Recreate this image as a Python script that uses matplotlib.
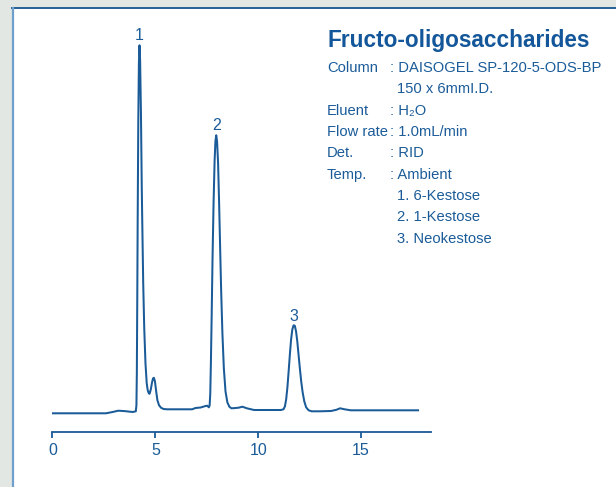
import matplotlib
matplotlib.use("Agg")
import matplotlib.pyplot as plt
import numpy as np
from matplotlib.patches import Rectangle
from matplotlib.lines import Line2D

# retention time (min) and detector response
time_min = [0.0, 2.6, 2.9, 3.2, 3.5, 3.9, 4.05, 4.08, 4.10, 4.12, 4.14, 4.17,
            4.20, 4.23, 4.26, 4.30, 4.34, 4.37, 4.41, 4.46, 4.52, 4.58, 4.63,
            4.68, 4.72, 4.78, 4.84, 4.89, 4.93, 4.98, 5.04, 5.10, 5.18, 5.28,
            5.40, 5.57, 6.0, 6.79, 6.95, 7.2, 7.44, 7.52, 7.60, 7.64, 7.67,
            7.70, 7.74, 7.78, 7.83, 7.88, 7.92, 7.96, 8.00, 8.05, 8.10, 8.15,
            8.20, 8.26, 8.33, 8.41, 8.50, 8.60, 8.70, 8.85, 9.05, 9.23, 9.45,
            9.8, 10.5, 11.1, 11.23, 11.30, 11.36, 11.42, 11.48, 11.54, 11.60,
            11.66, 11.72, 11.78, 11.84, 11.90, 11.96, 12.02, 12.09, 12.16,
            12.24, 12.33, 12.45, 12.60, 13.0, 13.54, 13.8, 13.98, 14.2, 14.5,
            15.5, 17.77]
response = [0.0, 0.0, 1.2, 2.6, 2.2, 1.3, 2.0, 8, 40, 110, 190, 290,
            350, 368, 352, 300, 225, 183, 130, 85, 50, 30, 23,
            20, 19.5, 24, 31, 35, 35.5, 32, 22, 13, 8, 5.5,
            4.3, 4.0, 4.0, 4.0, 5.3, 5.8, 7.3, 7.6, 6.0, 8, 20,
            50, 100, 155, 210, 252, 272, 278, 272, 250, 210, 165,
            122, 80, 45, 22, 11, 6.5, 5.0, 5.2, 5.6, 6.6, 5.0,
            3.3, 3.3, 3.3, 4, 7, 14, 26, 42, 59, 74,
            84, 88, 87.5, 82, 72, 59, 46, 32, 21,
            12, 6, 3, 2, 2.0, 2.3, 3.5, 5.0, 4.0, 3.0,
            3.0, 3.0]

peak_times = [4.23, 7.96, 11.75]
peak_labels = ['1', '2', '3']
xticks = [0, 5, 10, 15]

title = 'Fructo-oligosaccharides'
cond_names = ['Column', '', 'Eluent', 'Flow rate', 'Det.', 'Temp.', '', '', '']
cond_values = [': DAISOGEL SP-120-5-ODS-BP', '150 x 6mmI.D.', ': H\u2082O',
               ': 1.0mL/min', ': RID', ': Ambient', '1. 6-Kestose',
               '2. 1-Kestose', '3. Neokestose']

blue = '#1a5b98'
gray = '#e2e7e3'
plt.rcParams['font.family'] = ['Liberation Sans', 'DejaVu Sans']

W, H = 616, 487
fig = plt.figure(figsize=(W / 100, H / 100), dpi=100, facecolor='white')


def fx(px):
    return px / W


def fy(py):
    return 1 - py / H


# frame: gray strips on top and left with a blue edge
fig.add_artist(Rectangle((0, fy(7)), 1, 7 / H, transform=fig.transFigure,
                         facecolor=gray, edgecolor='none'))
fig.add_artist(Rectangle((0, 0), fx(12), 1, transform=fig.transFigure,
                         facecolor=gray, edgecolor='none'))
fig.add_artist(Line2D([fx(12), 1], [fy(7.5), fy(7.5)], transform=fig.transFigure,
                      color='#245f96', lw=1.4))
fig.add_artist(Line2D([fx(13), fx(13)], [0, fy(7.5)], transform=fig.transFigure,
                      color='#6f9fcc', lw=1.6))

x0, x1 = 52.5, 431
ybot, ytop = 432.3, 20
ax = fig.add_axes([fx(x0), fy(ybot), (x1 - x0) / W, (ybot - ytop) / H])
ax.set_facecolor('none')
ax.plot(time_min, response, color=blue, lw=1.45, solid_joinstyle='round')
ax.set_xlim(0, (x1 - x0) / 20.57)
ax.set_ylim(413.3 - ybot, 413.3 - ytop)

for s in ['top', 'left', 'right']:
    ax.spines[s].set_visible(False)
ax.spines['bottom'].set_color(blue)
ax.spines['bottom'].set_linewidth(1.3)
ax.set_yticks([])
ax.set_xticks(xticks)
ax.tick_params(axis='x', colors=blue, direction='out', length=4, width=1.3,
               labelsize=11.5, pad=3.5)

peak_heights = np.interp(peak_times, time_min, response)
for t, h, lab in zip(peak_times, peak_heights, peak_labels):
    ax.annotate(lab, (t, h), xytext=(0, 3.5), textcoords='offset points',
                ha='center', va='baseline', color=blue, fontsize=11.5)

fig.text(fx(327), fy(47), title, color='#13579a', fontsize=16.3,
         fontweight='bold', va='baseline')
for i, (name, val) in enumerate(zip(cond_names, cond_values)):
    yb = 72 + 21.33 * i
    if name:
        fig.text(fx(327), fy(yb), name, color=blue, fontsize=10.6, va='baseline')
    xv = 389.5 if val.startswith(':') else 396.5
    fig.text(fx(xv), fy(yb), val, color=blue, fontsize=10.6, va='baseline')

fig.savefig('out.png', dpi=100, facecolor='white')
